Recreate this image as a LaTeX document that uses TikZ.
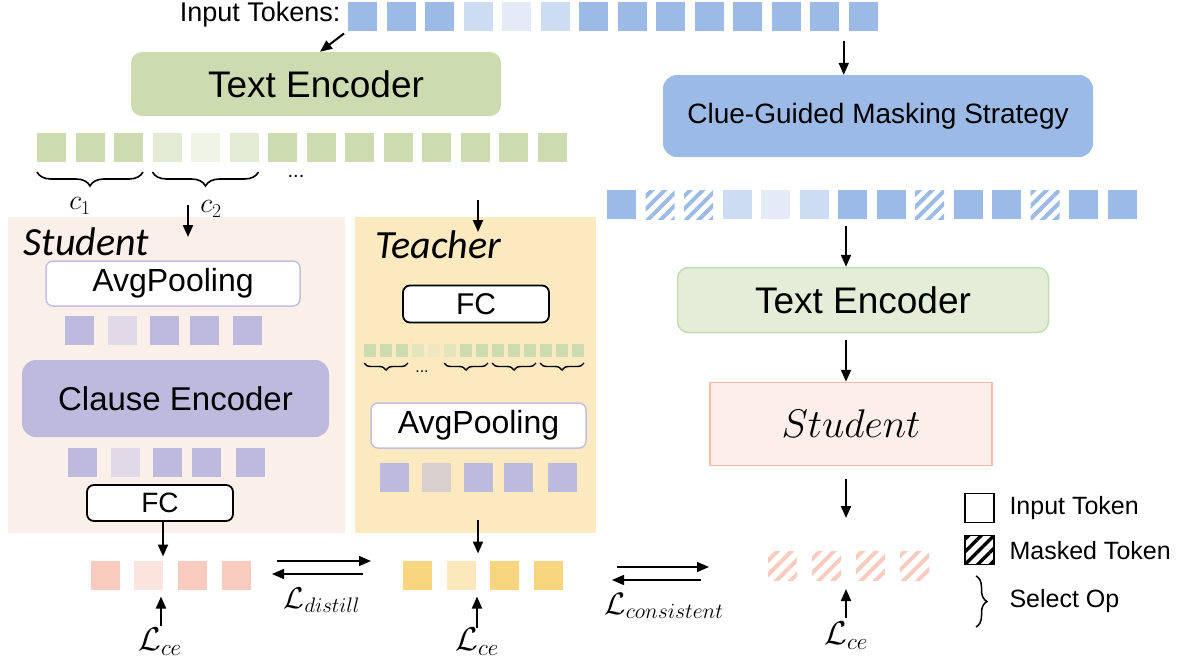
\RequirePackage{fix-cm}
\documentclass[tikz,border=0pt]{standalone}
\usepackage{fontspec}
\setmainfont{Liberation Sans}
\newfontfamily\carlito{Carlito}
\usetikzlibrary{arrows.meta,decorations.pathreplacing,patterns.meta,calc}
\definecolor{bD}{HTML}{9CBAE6}
\definecolor{bL}{HTML}{CCDCF3}
\definecolor{bLL}{HTML}{E4EBF7}
\definecolor{gD}{HTML}{CCDCB0}
\definecolor{gL}{HTML}{E3EBD4}
\definecolor{gLL}{HTML}{F0F4E7}
\definecolor{gY1}{HTML}{E4E4BE}
\definecolor{gY2}{HTML}{EEE7C2}
\definecolor{teR}{HTML}{E3EDD7}
\definecolor{teRb}{HTML}{C6DCB1}
\definecolor{stuBg}{HTML}{FBEFEA}
\definecolor{teaBg}{HTML}{FBEABF}
\definecolor{pD}{HTML}{BDBADD}
\definecolor{pL}{HTML}{DFD9E8}
\definecolor{pT}{HTML}{D9D0CD}
\definecolor{avgB}{HTML}{C3BFE3}
\definecolor{rD}{HTML}{F8CBBE}
\definecolor{rL}{HTML}{FCE4DE}
\definecolor{yD}{HTML}{F8D57E}
\definecolor{yL}{HTML}{FBE9BB}
\definecolor{stuR}{HTML}{FCEEE9}
\definecolor{stuRb}{HTML}{F5BBA9}
\tikzset{
  tok/.style={minimum width=29pt,minimum height=29pt,inner sep=0pt,outer sep=0pt},
  stok/.style={minimum width=12pt,minimum height=13pt,inner sep=0pt,outer sep=0pt},
  arr/.style={line width=2pt,-{Triangle[length=12pt,width=10pt]}},
  brc/.style={decorate,decoration={brace,mirror,amplitude=#1},line width=1.6pt},
  brc/.default=14pt,
  hatchB/.style={pattern={Lines[angle=45,distance=9pt,line width=4pt]},pattern color=bD},
  hatchR/.style={pattern={Lines[angle=45,distance=10pt,line width=4pt]},pattern color=rD},
  hatchK/.style={pattern={Lines[angle=45,distance=9pt,line width=3.5pt]},pattern color=black},
  whitebox/.style={fill=white,rounded corners=7pt,inner sep=0pt},
  legtxt/.style={anchor=west,font=\fontsize{25}{27}\selectfont},
  ttl/.style={anchor=base west,font=\carlito\itshape\fontsize{40}{42}\selectfont},
  mlab/.style={font=\fontsize{#1}{#1}\selectfont},
}
\begin{document}
\begin{tikzpicture}[x=1pt,y=-1pt]
\useasboundingbox (0,0) rectangle (1191,664);

% ---------- backgrounds ----------
\node[fill=stuBg,minimum width=337pt,minimum height=316pt,anchor=north west,inner sep=0pt] (stu) at (8,217) {};
\node[fill=teaBg,minimum width=241pt,minimum height=316pt,anchor=north west,inner sep=0pt] (tea) at (355,217) {};

% ---------- input tokens ----------
\node[anchor=east,font=\fontsize{27}{29}\selectfont] (itxt) at (344,15) {Input Tokens:};
\foreach \i/\c in {1/bD,2/bD,3/bD,4/bL,5/bLL,6/bL,7/bD,8/bD,9/bD,10/bD,11/bD,12/bD,13/bD,14/bD}
  \node[tok,fill=\c] (in\i) at ({362.5+38.5*(\i-1)},16) {};

% ---------- left text encoder ----------
\node[fill=gD,rounded corners=11pt,minimum width=370pt,minimum height=64pt,font=\fontsize{37}{40}\selectfont] (te1) at (316,84) {Text Encoder};
\coordinate (inArrS) at ($(in1.south west)+(-4,3)$);
\draw[arr] (inArrS) -- ($(te1.north)+(4,0)$);

\foreach \i/\c in {1/gD,2/gD,3/gD,4/gL,5/gLL,6/gL,7/gD,8/gD,9/gD,10/gD,11/gD,12/gD,13/gD,14/gD}
  \node[tok,fill=\c] (g\i) at ({51.5+38.5*(\i-1)},147.5) {};
\draw[brc] ([yshift=-10pt]g1.south west) -- ([yshift=-10pt]g3.south east);
\draw[brc] ([yshift=-10pt]g4.south west) -- ([yshift=-10pt]g6.south east);
\node[mlab=28] (c1) at (80,206) {$c_1$};
\node[mlab=28] (c2) at (211,209) {$c_2$};
\node[font=\fontsize{20}{22}\selectfont] (dots1) at (296,176) {...};

% ---------- clue-guided masking ----------
\node[fill=bD,rounded corners=14pt,minimum width=430pt,minimum height=82pt,font=\fontsize{28}{30}\selectfont] (clue) at (878,116) {Clue-Guided Masking Strategy};
\coordinate (clueIn) at ($(in13.south)!0.5!(in14.south)+(0,10)$);
\draw[arr] (clueIn) -- (clueIn |- clue.north);

\foreach \i in {1,7,8,10,11,13,14}
  \node[tok,fill=bD] (m\i) at ({621.5+38.5*(\i-1)},204.5) {};
\foreach \i in {4,6}
  \node[tok,fill=bL] (m\i) at ({621.5+38.5*(\i-1)},204.5) {};
\node[tok,fill=bLL] (m5) at ({621.5+38.5*4},204.5) {};
\foreach \i in {2,3,9,12}
  \node[tok,hatchB] (m\i) at ({621.5+38.5*(\i-1)},204.5) {};

% ---------- right text encoder & student ----------
\node[fill=teR,draw=teRb,line width=1.5pt,rounded corners=11pt,minimum width=371pt,minimum height=65pt,font=\fontsize{37}{40}\selectfont] (te2) at (863,300) {Text Encoder};
\node[fill=stuR,draw=stuRb,line width=1.5pt,minimum width=282pt,minimum height=83pt,font=\fontsize{40}{42}\selectfont] (stu2) at (851,424) {$Student$};
\coordinate (rA1) at (846,226);
\draw[arr] (rA1) -- (rA1 |- te2.north);
\draw[arr] ($(te2.south -| rA1)+(0,7)$) -- (rA1 |- stu2.north);
\foreach \i in {1,2,3,4}
  \node[tok,hatchR] (h\i) at ({782.5+44*(\i-1)},565.5) {};
\draw[arr] ($(stu2.south -| rA1)+(0,13)$) -- ($(rA1 |- h2.north)+(0,-33)$);
\node[mlab=33] (lce3) at (846,636) {$\mathcal{L}_{ce}$};
\draw[arr] ($(lce3.north -| rA1)+(0,-1)$) -- ($(rA1 |- h2.south)+(0,9)$);

% ---------- student ----------
\node[ttl] (stuT) at (20,255) {Student};
\coordinate (sIn) at (188,205);
\draw[arr] (sIn) -- (188,237);
\node[whitebox,draw=avgB,line width=1.5pt,minimum width=254pt,minimum height=45pt,font=\fontsize{32}{34}\selectfont] (avg1) at (173,283.5) {AvgPooling};
\foreach \i/\x/\c in {1/79.5/pD,2/122.5/pL,3/164.5/pD,4/204.5/pD,5/247.5/pD}
  \node[tok,fill=\c] (sp\i) at (\x,330) {};
\node[fill=pD,rounded corners=14pt,minimum width=307pt,minimum height=77pt,font=\fontsize{33}{35}\selectfont] (clause) at (175.5,398.5) {Clause Encoder};
\foreach \i/\x/\c in {1/82.5/pD,2/125.5/pL,3/167.5/pD,4/206.5/pD,5/250.5/pD}
  \node[tok,fill=\c] (sq\i) at (\x,462) {};
\node[whitebox,draw=black,line width=1.8pt,minimum width=146pt,minimum height=36pt,font=\fontsize{28}{30}\selectfont] (fc1) at (160,503) {FC};

% ---------- teacher ----------
\node[ttl] (teaT) at (372,258) {Teacher};
\coordinate (tIn) at (478,200);
\draw[arr] (tIn) -- (478,232);
\node[whitebox,draw=black,line width=1.8pt,minimum width=146pt,minimum height=37pt,font=\fontsize{30}{32}\selectfont] (fc2) at (476,304) {FC};
\foreach \i/\c in {1/gD,2/gD,3/gD,4/gY1,5/gY2,6/gY1,7/gD,8/gD,9/gD,10/gD,11/gD,12/gD,13/gD,14/gD}
  \node[stok,fill=\c] (st\i) at ({370+16*(\i-1)},350.5) {};
\draw[brc=7pt,line width=1.4pt] ([yshift=-6pt]st1.south west) -- ([yshift=-6pt]st3.south east);
\draw[brc=7pt,line width=1.4pt] ([yshift=-6pt]st6.south west) -- ([yshift=-6pt]st8.south east);
\draw[brc=7pt,line width=1.4pt] ([yshift=-6pt]st9.south west) -- ([yshift=-6pt]st11.south east);
\draw[brc=7pt,line width=1.4pt] ([yshift=-6pt]st12.south west) -- ([yshift=-6pt]st14.south east);
\node[font=\fontsize{16}{18}\selectfont] (dots2) at (422,372) {...};
\node[whitebox,draw=avgB,line width=1.5pt,minimum width=215pt,minimum height=45pt,font=\fontsize{32}{34}\selectfont] (avg2) at (478.5,425.5) {AvgPooling};
\foreach \i/\x/\c in {1/394.5/pD,2/436.5/pT,3/478.5/pD,4/518.5/pD,5/562.5/pD}
  \node[tok,fill=\c] (tp\i) at (\x,477.5) {};

% ---------- outputs ----------
\foreach \i/\x/\c in {1/105.5/rD,2/148.5/rL,3/192.5/rD,4/236.5/rD}
  \node[tok,fill=\c] (p\i) at (\x,575) {};
\foreach \i/\x/\c in {1/417.5/yD,2/461.5/yL,3/504.5/yD,4/548.5/yD}
  \node[tok,fill=\c] (y\i) at (\x,575) {};
\coordinate (fcA) at (163,521);
\draw[arr] (fc1.south -| fcA) -- ($(p2.north -| fcA)+(0,-4)$);
\coordinate (teA) at (478,520);
\draw[arr] (teA) -- ($(y2.north -| teA)+(0,-7)$);

\node[mlab=33] (lce1) at (160,642) {$\mathcal{L}_{ce}$};
\node[mlab=33] (lce2) at (477,642) {$\mathcal{L}_{ce}$};
\coordinate (u1) at (161,626);
\coordinate (u2) at (477,628);
\draw[arr] (u1) -- ($(u1 |- p2.south)+(0,7)$);
\draw[arr] (u2) -- ($(u2 |- y2.south)+(0,7)$);

% distill
\coordinate (dA) at (277,561);
\coordinate (dB) at (371,561);
\draw[arr,line width=1.5pt] (dA) -- (dB);
\draw[arr,line width=1.5pt] ($(dB)+(-8,13)$) -- ($(dA)+(-5,13)$);
\node[mlab=30] (ldis) at (322,600) {$\mathcal{L}_{distill}$};
% consistent
\coordinate (cA) at (617,567);
\coordinate (cB) at (709,567);
\draw[arr,line width=1.5pt] (cA) -- (cB);
\draw[arr,line width=1.5pt] ($(cB)+(-8,13)$) -- ($(cA)+(-5,13)$);
\node[mlab=31] (lcon) at (664,606) {$\mathcal{L}_{consistent}$};

% ---------- legend ----------
\node[tok,draw=black,line width=1.8pt,fill=white] (lg1) at (979.5,508) {};
\node[tok,draw=black,line width=1.8pt,hatchK] (lg2) at (979.5,550) {};
\node[legtxt] (lt1) at (1006,508) {Input Token};
\node[legtxt] (lt2) at (1006,551) {Masked Token};
\coordinate (lb1) at (976,576);
\coordinate (lb2) at (976,627);
\draw[decorate,decoration={brace,amplitude=11pt},line width=1.5pt] (lb1) -- (lb2);
\node[legtxt] (lt3) at (1006,601) {Select Op};
\end{tikzpicture}
\end{document}
